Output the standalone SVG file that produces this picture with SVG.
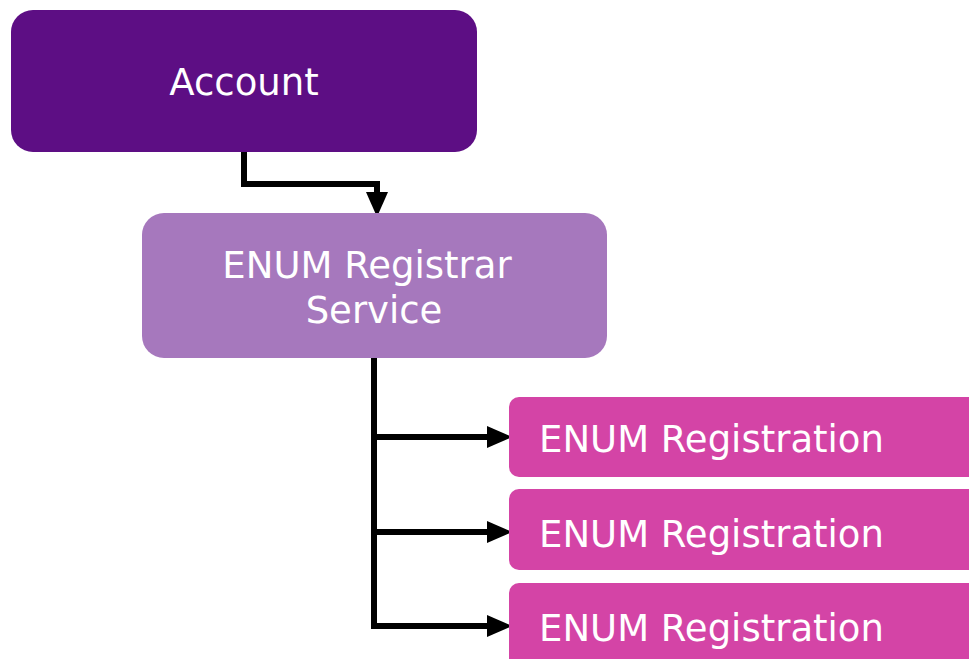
<svg xmlns="http://www.w3.org/2000/svg" width="969" height="659" viewBox="0 0 969 659">
  <defs>
    <style>
      .lbl { font-family: "DejaVu Sans", Verdana, sans-serif; font-size: 37px; fill: #fff; }
      .edge { fill: none; stroke: #000; stroke-width: 6; stroke-linejoin: miter; }
      .head { fill: #000; }
    </style>
  </defs>
  <rect width="969" height="659" fill="#fff"/>

  <g id="connectors">
    <path class="edge" d="M244,152 V184 H377 V194"/>
    <polygon class="head" points="366,192 388,192 377,217"/>
    <path class="edge" d="M374,358 V626"/>
    <path class="edge" d="M371,437 H490"/>
    <polygon class="head" points="487,426 487,448 512,437"/>
    <path class="edge" d="M371,532 H490"/>
    <polygon class="head" points="487,521 487,543 512,532"/>
    <path class="edge" d="M371,626 H490"/>
    <polygon class="head" points="487,615 487,637 512,626"/>
  </g>

  <g id="account">
    <rect x="11" y="10" width="466" height="142" rx="22" fill="#5d0e84"/>
    <text class="lbl" x="244" y="95" text-anchor="middle">Account</text>
  </g>

  <g id="registrar-service">
    <rect x="142" y="213" width="465" height="145" rx="22" fill="#a678bd"/>
    <text class="lbl" x="367" y="278" text-anchor="middle">ENUM Registrar</text>
    <text class="lbl" x="374" y="323" text-anchor="middle">Service</text>
  </g>

  <g id="registration-1">
    <rect x="509" y="397" width="480" height="80" rx="10" fill="#d444a6"/>
    <text class="lbl" x="539" y="452">ENUM Registration</text>
  </g>

  <g id="registration-2">
    <rect x="509" y="489" width="480" height="81" rx="10" fill="#d444a6"/>
    <text class="lbl" x="539" y="547">ENUM Registration</text>
  </g>

  <g id="registration-3">
    <rect x="509" y="583" width="480" height="90" rx="10" fill="#d444a6"/>
    <text class="lbl" x="539" y="641">ENUM Registration</text>
  </g>
</svg>
